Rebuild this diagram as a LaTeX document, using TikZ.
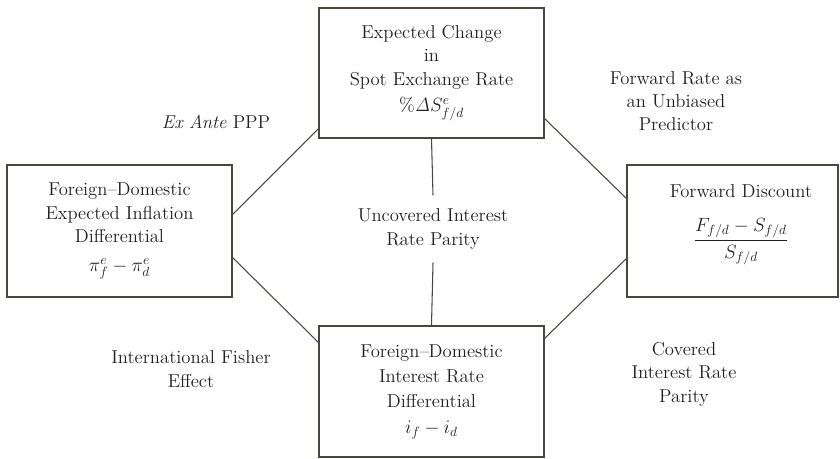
\documentclass[tikz,border=0pt]{standalone}
\usepackage{amsmath}
\usetikzlibrary{calc}
\definecolor{ink}{HTML}{231F20}
\definecolor{edge}{HTML}{4B463F}

\begin{document}
\begin{tikzpicture}[x=0.75pt, y=-0.75pt,
    every node/.style={text=ink, font=\fontsize{14}{17.5}\selectfont},
    box/.style={draw=edge, line width=1pt, align=center, inner sep=0pt},
    link/.style={draw=edge, line width=0.8pt},
    tag/.style={align=center, inner sep=0pt}]
    % --- 1. Canvas ---
    \useasboundingbox (0,0) rectangle (840,458);

    % --- 2. Boxes ---
    \node[box, minimum width=168.75pt, minimum height=97.5pt] (spot) at (431.5,73)
        {Expected Change\\in\\Spot Exchange Rate\\[2pt]$\%\mathit{\Delta} S^{e}_{f/d}$};
    \node[box, minimum width=168.75pt, minimum height=99pt] (infl) at (119.5,231)
        {Foreign--Domestic\\Expected Inflation\\Differential\\[4pt]$\pi^{e}_{f} - \pi^{e}_{d}$};
    \node[box, minimum width=168.75pt, minimum height=98.25pt] (irate) at (431.5,391.5)
        {Foreign--Domestic\\[1.5pt]Interest Rate\\[1.5pt]Differential\\[1.5pt]$i_{f} - i_{d}$};
    % right box runs off the page edge, so its text sits right of centre
    \node[box, minimum width=158.25pt, minimum height=99pt] (fwd) at (732.5,231) {};
    \node[tag] (fwdtext) at ($(fwd.center)+(8.5,-6)$)
        {Forward Discount\\[14pt]$\dfrac{F_{f/d} - S_{f/d}}{S_{f/d}}$};

    % --- 3. Parity labels ---
    \node[tag] (exante) at (216,122) {\textit{Ex Ante} PPP};
    \node[tag] (unbiased) at (676,101) {Forward Rate as\\an Unbiased\\Predictor};
    \node[tag, inner ysep=10pt] (uip) at (433,229) {Uncovered Interest\\Rate Parity};
    \node[tag] (fisher) at (191,369) {International Fisher\\Effect};
    \node[tag] (cip) at (684,374) {Covered\\Interest Rate\\Parity};

    % --- 4. Connectors ---
    \draw[link] ($(spot.south west)+(0,-10)$) -- ($(infl.north east)+(0,50)$);
    \draw[link] ($(infl.south east)+(0,-40)$) -- ($(irate.north west)+(0,17)$);
    \draw[link] ($(irate.north east)+(0,13)$) -- ($(fwd.south west)+(0,-39)$);
    \draw[link] ($(spot.south east)+(0,-20)$) -- ($(fwd.north west)+(0,34)$);
    \draw[link] (spot.south) -- (uip.north);
    \draw[link] (uip.south) -- (irate.north);
\end{tikzpicture}
\end{document}
